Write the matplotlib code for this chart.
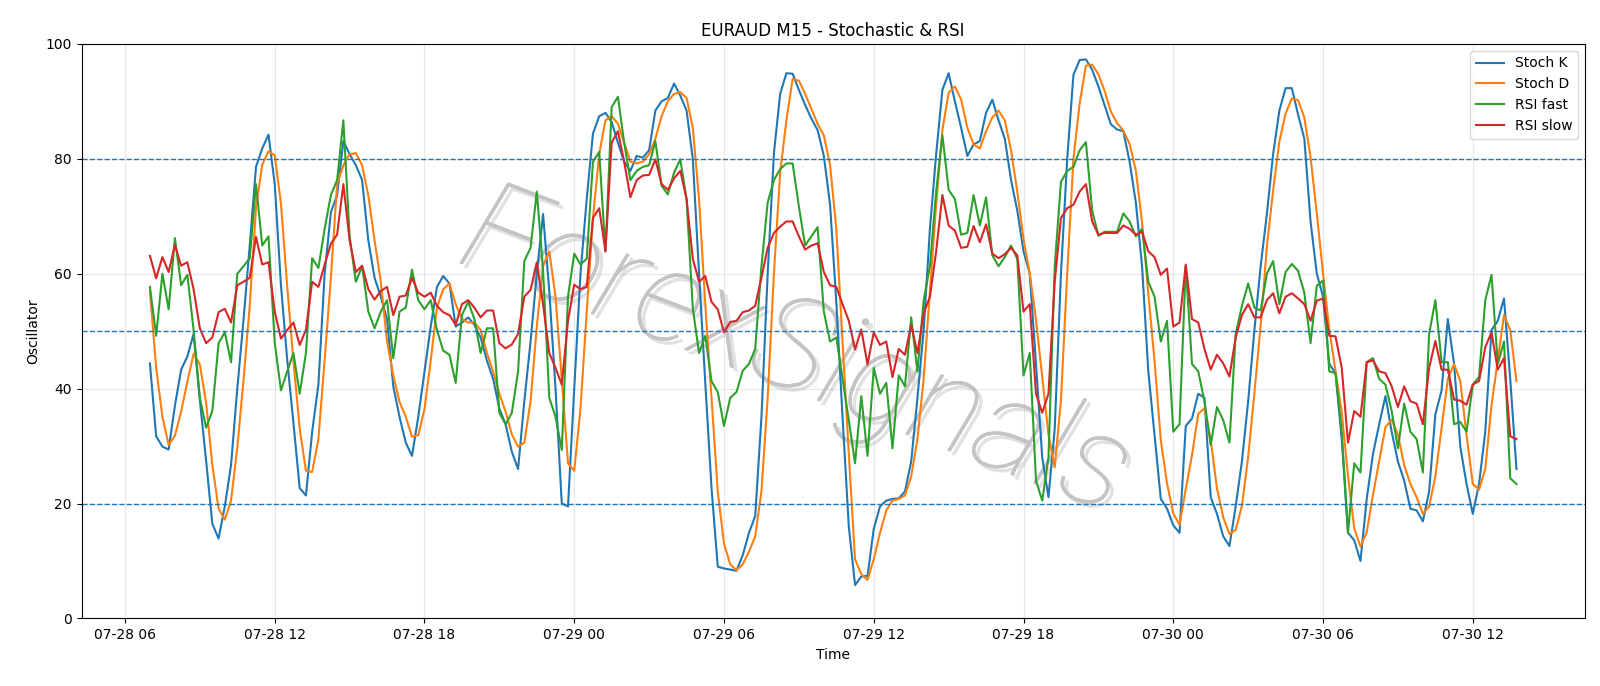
import numpy as np
import pandas as pd
import matplotlib
matplotlib.use('Agg')
import matplotlib.pyplot as plt
import matplotlib.dates as mdates
import matplotlib.patheffects as pe

# --- data (M15 bars) ---
start_time = '2025-07-28 07:00'

stoch_k = [
    44.4, 31.7, 29.9, 29.4, 37.0, 43.3, 45.6, 49.5, 38.0, 27.5,
    16.5, 13.9, 19.5, 26.7, 40.0, 52.0, 65.0, 78.6, 81.8, 84.2,
    75.6, 58.0, 45.0, 34.0, 22.7, 21.4, 32.5, 40.7, 60.0, 70.7,
    73.7, 83.1, 80.8, 78.9, 76.3, 65.8, 59.3, 56.0, 52.1, 40.4,
    35.1, 30.6, 28.3, 35.1, 43.0, 50.8, 57.7, 59.6, 58.3, 50.8,
    51.5, 52.4, 51.1, 48.9, 44.9, 41.7, 36.5, 33.8, 29.0, 26.0,
    37.8, 48.2, 60.0, 70.4, 57.0, 40.0, 20.0, 19.5, 40.0, 60.0,
    73.0, 84.4, 87.4, 88.0, 86.4, 82.8, 79.5, 77.9, 80.5, 80.2,
    81.5, 88.4, 90.0, 90.6, 93.1, 91.0, 88.4, 80.0, 60.0, 41.0,
    22.7, 9.0, 8.7, 8.5, 8.3, 11.0, 14.9, 17.8, 35.0, 60.0,
    81.0, 91.3, 94.9, 94.8, 92.0, 89.4, 87.0, 85.0, 80.5, 72.0,
    55.0, 35.0, 16.0, 5.8, 7.3, 7.4, 15.6, 19.5, 20.5, 20.8,
    20.9, 22.1, 27.3, 38.4, 50.2, 67.8, 80.8, 92.0, 94.9, 90.0,
    85.4, 80.5, 82.5, 83.1, 88.0, 90.3, 86.7, 83.5, 76.3, 71.0,
    63.9, 60.0, 44.3, 28.0, 21.1, 33.0, 60.0, 80.0, 94.6, 97.2,
    97.3, 95.5, 92.6, 89.3, 86.0, 85.1, 84.8, 79.5, 72.4, 61.3,
    43.0, 31.9, 20.8, 19.1, 16.2, 14.9, 33.5, 34.8, 39.1, 38.4,
    21.1, 18.2, 14.3, 12.6, 19.5, 27.3, 37.8, 50.2, 61.3, 70.4,
    80.8, 88.4, 92.3, 92.3, 87.7, 83.5, 69.1, 60.0, 56.0, 44.3,
    42.7, 31.2, 14.9, 13.6, 10.0, 20.8, 28.6, 33.8, 38.7, 32.5,
    27.3, 24.0, 19.1, 18.8, 16.9, 22.1, 35.5, 39.7, 52.1, 44.3,
    29.9, 23.4, 18.2, 23.4, 32.5, 50.2, 51.8, 55.7, 41.7, 26.0,
]

stoch_d = [
    57.0, 43.6, 35.1, 30.2, 31.8, 36.0, 41.2, 46.1, 44.2, 37.6,
    26.7, 19.1, 17.2, 20.5, 29.7, 41.5, 54.5, 71.5, 79.0, 81.3,
    80.6, 72.2, 57.8, 44.8, 33.0, 25.7, 25.5, 31.2, 45.0, 59.3,
    75.6, 78.9, 80.8, 81.0, 78.9, 73.6, 65.8, 58.6, 48.2, 42.3,
    37.7, 35.1, 31.6, 31.9, 36.4, 44.9, 54.1, 57.3, 58.3, 54.7,
    52.1, 51.5, 51.5, 50.2, 46.2, 43.0, 39.1, 36.0, 32.0, 29.9,
    30.6, 37.8, 50.8, 61.3, 63.9, 56.0, 41.7, 27.0, 25.7, 36.5,
    53.4, 69.7, 80.8, 86.7, 87.4, 86.1, 82.8, 79.5, 79.2, 79.5,
    80.8, 83.5, 87.4, 90.0, 91.3, 91.6, 90.6, 85.4, 73.0, 54.7,
    38.4, 22.1, 13.0, 9.4, 8.4, 9.4, 11.6, 14.3, 22.1, 38.4,
    60.0, 77.6, 86.7, 93.9, 93.6, 91.3, 88.7, 86.1, 84.1, 78.9,
    67.8, 48.2, 28.6, 10.3, 7.7, 6.7, 10.3, 14.9, 18.8, 20.5,
    20.8, 21.4, 24.7, 31.2, 41.7, 57.0, 72.0, 85.0, 91.5, 92.6,
    90.3, 85.4, 82.5, 81.8, 84.8, 87.2, 88.4, 86.7, 81.5, 74.3,
    66.0, 60.0, 52.0, 42.0, 32.0, 26.3, 38.0, 60.0, 80.0, 89.7,
    96.2, 96.4, 94.7, 91.8, 88.2, 86.2, 84.9, 82.6, 78.0, 68.9,
    56.5, 44.8, 31.0, 23.5, 18.3, 16.3, 22.5, 28.4, 35.6, 36.6,
    31.1, 22.6, 17.6, 14.7, 15.4, 19.6, 28.1, 39.2, 51.0, 64.7,
    74.5, 83.0, 87.9, 90.5, 90.2, 87.2, 80.3, 70.5, 60.1, 50.3,
    43.1, 35.9, 24.8, 15.7, 12.5, 15.0, 21.5, 27.4, 33.3, 34.6,
    32.0, 26.7, 23.4, 21.1, 18.2, 19.5, 24.7, 33.2, 41.7, 44.3,
    41.3, 31.9, 23.4, 22.4, 26.0, 37.1, 45.0, 52.8, 50.2, 41.3,
]

rsi_fast = [
    57.7, 49.2, 60.0, 53.8, 66.2, 58.0, 59.8, 50.2, 38.4, 33.2,
    36.1, 47.9, 49.8, 44.6, 60.0, 61.3, 62.7, 75.6, 64.9, 66.5,
    48.0, 39.7, 43.0, 46.2, 39.1, 46.2, 62.7, 61.0, 67.8, 73.7,
    76.3, 86.7, 66.5, 58.6, 61.3, 53.4, 50.5, 53.4, 55.4, 45.3,
    53.4, 54.1, 60.7, 55.4, 53.8, 55.4, 50.2, 46.6, 45.9, 41.0,
    52.8, 55.1, 52.1, 46.2, 50.5, 50.5, 35.8, 33.8, 35.8, 43.0,
    62.2, 64.5, 74.3, 60.6, 38.4, 35.1, 29.3, 56.0, 63.5, 61.6,
    62.6, 79.5, 81.2, 63.9, 89.0, 90.8, 82.8, 76.3, 77.9, 78.6,
    78.9, 83.1, 75.3, 73.8, 77.6, 79.9, 73.0, 54.0, 46.2, 49.2,
    41.3, 39.4, 33.5, 38.4, 39.4, 43.1, 44.3, 46.9, 61.3, 72.4,
    76.3, 78.2, 79.2, 79.2, 71.7, 64.9, 66.5, 68.1, 53.4, 48.2,
    48.9, 41.7, 34.5, 27.0, 38.7, 28.3, 43.6, 39.1, 41.0, 29.6,
    42.3, 40.4, 52.4, 43.0, 55.4, 61.3, 74.3, 84.1, 74.6, 73.0,
    66.8, 67.1, 73.7, 68.4, 73.3, 63.2, 61.3, 62.9, 64.9, 62.6,
    42.3, 46.2, 24.0, 20.5, 28.0, 61.3, 76.0, 77.9, 78.6, 81.5,
    82.9, 71.0, 66.6, 67.3, 67.3, 67.3, 70.5, 69.1, 66.5, 67.8,
    58.6, 56.0, 48.2, 51.8, 32.5, 33.8, 61.3, 44.3, 43.0, 37.8,
    30.2, 36.8, 34.5, 30.6, 49.5, 54.4, 58.3, 54.1, 53.6, 60.0,
    62.2, 54.7, 60.3, 61.7, 60.5, 56.7, 47.9, 57.9, 58.8, 43.0,
    42.7, 32.5, 14.9, 27.0, 25.4, 44.6, 45.3, 41.7, 40.7, 36.1,
    29.6, 37.4, 32.5, 31.2, 25.4, 49.5, 55.4, 44.6, 44.6, 33.8,
    34.2, 32.5, 40.7, 42.0, 55.4, 59.8, 44.3, 48.2, 24.4, 23.4,
]

rsi_slow = [
    63.1, 59.2, 62.9, 60.3, 65.0, 61.4, 62.0, 57.3, 50.5, 47.9,
    48.9, 53.3, 53.9, 51.5, 58.0, 58.6, 59.3, 66.4, 61.6, 62.0,
    53.4, 48.7, 50.2, 51.5, 47.6, 50.2, 58.6, 57.7, 61.6, 65.2,
    66.8, 75.6, 65.8, 60.3, 61.4, 57.3, 55.5, 57.0, 57.7, 52.8,
    56.0, 56.2, 59.3, 56.7, 56.0, 56.7, 54.4, 53.3, 52.8, 51.1,
    54.7, 55.4, 54.1, 52.4, 53.6, 53.6, 47.9, 47.0, 47.7, 49.5,
    56.0, 57.2, 61.9, 54.7, 46.2, 43.6, 40.7, 51.8, 58.1, 57.3,
    57.7, 69.7, 71.4, 63.9, 82.8, 84.8, 79.5, 73.3, 76.3, 77.1,
    77.2, 79.9, 75.6, 74.6, 76.6, 77.9, 73.0, 62.6, 58.6, 59.6,
    55.1, 53.8, 49.8, 51.6, 51.8, 53.3, 53.6, 54.4, 59.3, 64.5,
    67.1, 68.2, 69.1, 69.1, 66.5, 64.2, 64.9, 65.3, 60.3, 58.0,
    57.7, 54.7, 51.8, 46.8, 50.3, 44.2, 49.8, 47.6, 48.2, 42.0,
    46.9, 45.9, 51.1, 46.2, 53.1, 56.0, 63.9, 73.7, 68.4, 67.5,
    64.5, 64.7, 68.3, 65.5, 68.6, 63.5, 62.7, 63.4, 64.5, 63.2,
    53.4, 54.7, 39.1, 35.8, 39.1, 58.6, 69.7, 71.4, 72.0, 74.3,
    75.6, 69.1, 66.8, 67.1, 67.1, 67.1, 68.4, 67.8, 66.8, 67.3,
    63.9, 62.9, 59.8, 60.9, 50.8, 51.5, 61.6, 52.1, 51.5, 46.9,
    43.3, 45.9, 44.4, 42.1, 48.9, 52.8, 54.7, 52.4, 52.4, 55.4,
    56.6, 53.1, 56.0, 56.6, 55.7, 54.7, 51.8, 55.3, 55.7, 49.2,
    49.1, 43.6, 30.6, 36.1, 35.1, 44.6, 44.9, 43.0, 42.7, 40.4,
    36.8, 40.4, 37.8, 37.4, 33.8, 43.6, 48.3, 43.3, 43.3, 38.1,
    37.9, 37.2, 40.7, 41.3, 47.2, 49.8, 43.3, 45.3, 31.7, 31.2,
]

levels = [80, 50, 20]

times = pd.date_range(start_time, periods=len(stoch_k), freq='15min')

# --- figure ---
fig, ax = plt.subplots(figsize=(16, 6.86), dpi=100)
fig.subplots_adjust(left=0.051, right=0.9905, top=0.936, bottom=0.0985)

# watermark (thin italic, behind the lines)
ax.text(0.475, 0.46, 'ForexSignals', transform=ax.transAxes,
        fontsize=94, style='italic', family='Roboto', fontweight=100,
        color='#c4c4c4', rotation=-21,
        ha='center', va='center', zorder=1,
        path_effects=[pe.withSimplePatchShadow(offset=(3, -3), shadow_rgbFace='#bdbdbd', alpha=0.45),
                      pe.Normal()])

ax.plot(times, stoch_k, label='Stoch K', linewidth=1.5)
ax.plot(times, stoch_d, label='Stoch D', linewidth=1.5)
ax.plot(times, rsi_fast, label='RSI fast', linewidth=1.5)
ax.plot(times, rsi_slow, label='RSI slow', linewidth=1.5)

for lv in levels:
    ax.axhline(lv, color='#1f77b4', linestyle='--', linewidth=1)

ax.set_ylim(0, 100)
ax.xaxis.set_major_locator(mdates.HourLocator(byhour=[0, 6, 12, 18]))
ax.xaxis.set_major_formatter(mdates.DateFormatter('%m-%d %H'))
ax.grid(True, alpha=0.3)

ax.set_title('EURAUD M15 - Stochastic & RSI')
ax.set_xlabel('Time')
ax.set_ylabel('Oscillator')
ax.legend(loc='upper right')

plt.savefig('out.png', dpi=100, facecolor='white')
plt.close()
